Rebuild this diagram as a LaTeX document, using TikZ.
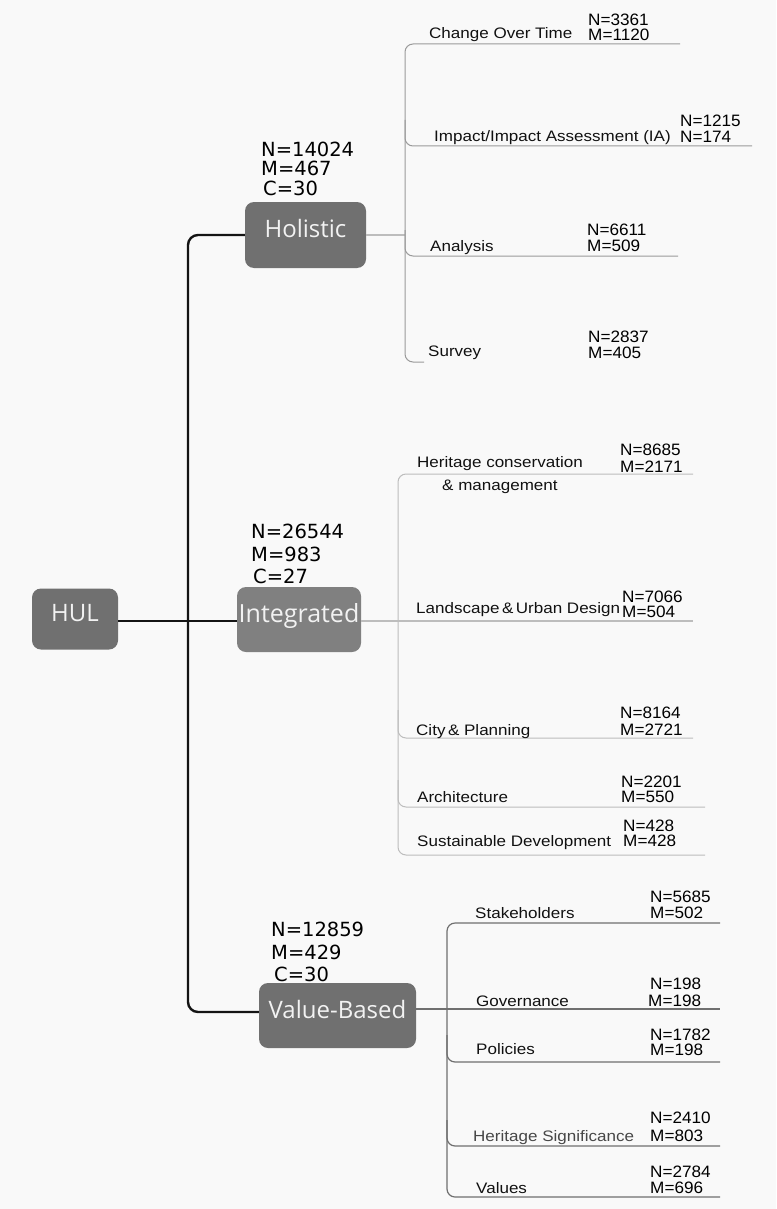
\documentclass[tikz,border=0pt]{standalone}
\usepackage{fontspec}
\setmainfont{Liberation Sans}
\newfontfamily\boxfont{Open Sans}
\newfontfamily\bigfont{DejaVu Sans}
\newfontfamily\brfont[FakeStretch=1.12]{Liberation Sans}
\newfontfamily\numfont[FakeStretch=1.04]{Liberation Sans}

\definecolor{paper}{HTML}{F9F9F9}
\definecolor{hubgray}{HTML}{707070}
\definecolor{intgray}{HTML}{808080}
\definecolor{hubtext}{HTML}{F2F2F2}
\definecolor{lblcol}{HTML}{111111}
\definecolor{brA}{HTML}{9A9A9A}
\definecolor{brB}{HTML}{BDBDBD}
\definecolor{brC}{HTML}{707070}

\tikzset{
  hub/.style={rounded corners=9pt, fill=hubgray, text=hubtext, inner sep=0pt,
    font=\boxfont\fontsize{24}{24}\selectfont, text height=0.72em, text depth=0.2em},
  bignum/.style={font=\bigfont\fontsize{19.5}{20}\selectfont, anchor=base west, inner sep=0pt, text=black},
  lbl/.style={font=\brfont\fontsize{15.2}{15}\selectfont, anchor=base west, inner sep=0pt, text=lblcol},
  num/.style={font=\numfont\fontsize{16.5}{16}\selectfont, anchor=base west, inner sep=0pt, text=black},
  trunk/.style={draw=black!92, line width=2.4pt},
  twigA/.style={draw=brA, line width=1pt, rounded corners=8pt},
  twigB/.style={draw=brB, line width=1pt, rounded corners=8pt},
  twigC/.style={draw=brC, line width=1.2pt, rounded corners=8pt},
}

\begin{document}
\begin{tikzpicture}[x=1pt,y=-1pt]
\fill[paper] (0,0) rectangle (776,1209);
\useasboundingbox (0,0) rectangle (776,1209);

% central nodes
\node[hub, minimum width=86pt, minimum height=61pt] (hul) at (75,619) {HUL};
\node[hub, minimum width=121pt, minimum height=66pt] (holistic) at (305.5,235) {Holistic};
\node[hub, fill=intgray, minimum width=124pt, minimum height=65pt,
      font=\boxfont\fontsize{25}{25}\selectfont] (integ) at (299,619.5) {Integrated};
\node[hub, minimum width=157pt, minimum height=65pt] (value) at (337.5,1015.5) {Value-Based};

% trunk
\coordinate (tk) at (188,621);
\draw[trunk] (hul.east |- tk) -- (integ.west |- tk);
\draw[trunk, rounded corners=10pt] (holistic.west) -| (tk) |- ([yshift=3.5pt]value.west);

% counts above the central nodes
\node[bignum] (ho-n) at (261,157) {N=14024};
\node[bignum] (ho-m) at (261,176) {M=467};
\node[bignum] (ho-c) at (263,196) {C=30};
\node[bignum] (in-n) at (251,538) {N=26544};
\node[bignum] (in-m) at (251,561) {M=983};
\node[bignum] (in-c) at (253,583) {C=27};
\node[bignum] (vb-n) at (271,936) {N=12859};
\node[bignum] (vb-m) at (271,959) {M=429};
\node[bignum] (vb-c) at (274,981) {C=30};

% ---------- Holistic branch ----------
\coordinate (hb) at (405,235);
\draw[draw=brB, line width=1.6pt] (holistic.east) -- (hb);
\coordinate (cot-e) at (680,44);
\coordinate (ia-e) at (752,146);
\coordinate (an-e) at (678,256);
\coordinate (sv-e) at (424,362);
\draw[twigA] (cot-e) -| (hb) |- (sv-e);
\draw[twigA] (405,120) |- (ia-e);
\draw[twigA] (405,230) |- (an-e);

\node[lbl] (cot) at (429,39) {Change Over Time};
\node[num] (cot-n) at (588,26) {N=3361};
\node[num] (cot-m) at (588,41) {M=1120};
\node[lbl] (ia) at (434,142) {Impact/Impact Assessment (IA)};
\node[num] (ia-n) at (680,127) {N=1215};
\node[num] (ia-m) at (680,143) {N=174};
\node[lbl] (an) at (430,251) {Analysis};
\node[num] (an-n) at (587,235) {N=6611};
\node[num] (an-m) at (587,251) {M=509};
\node[lbl] (sv) at (428,356) {Survey};
\node[num] (sv-n) at (588,342) {N=2837};
\node[num] (sv-m) at (588,358) {M=405};

% ---------- Integrated branch ----------
\coordinate (ib) at (398,621);
\coordinate (hc-e) at (693,474);
\coordinate (lu-e) at (693,621);
\coordinate (cp-e) at (693,738);
\coordinate (ar-e) at (705,807);
\coordinate (sd-e) at (705,855);
\draw[draw=brB, line width=1.3pt] (integ.east |- lu-e) -- (lu-e);
\draw[twigB] (hc-e) -| (ib) |- (sd-e);
\draw[twigB] (398,710) |- (cp-e);
\draw[twigB] (398,780) |- (ar-e);

\node[lbl] (hc) at (417,467) {Heritage conservation};
\node[lbl] (hc2) at (442,490) {\& management};
\node[num] (hc-n) at (620,455) {N=8685};
\node[num] (hc-m) at (620,472) {M=2171};
\node[lbl] (lu) at (416,613) {Landscape\,\&\,Urban Design};
\node[num] (lu-n) at (622,602) {N=7066};
\node[num] (lu-m) at (622,617) {M=504};
\node[lbl] (cp) at (416,735) {City\,\& Planning};
\node[num] (cp-n) at (620,718) {N=8164};
\node[num] (cp-m) at (620,735) {M=2721};
\node[lbl] (ar) at (417,802) {Architecture};
\node[num] (ar-n) at (621,787) {N=2201};
\node[num] (ar-m) at (621,802) {M=550};
\node[lbl] (sd) at (417,846) {Sustainable Development};
\node[num] (sd-n) at (623,831) {N=428};
\node[num] (sd-m) at (623,846) {M=428};

% ---------- Value-Based branch ----------
\coordinate (vb) at (447,1009);
\coordinate (st-e) at (720,923);
\coordinate (gv-e) at (720,1009);
\coordinate (po-e) at (720,1062);
\coordinate (hs-e) at (720,1146);
\coordinate (va-e) at (720,1197);
\draw[draw=brC, line width=1.2pt] (value.east |- vb) -- (gv-e);
\draw[twigC] (st-e) -| (vb) |- (va-e);
\draw[twigC] (447,1035) |- (po-e);
\draw[twigC] (447,1120) |- (hs-e);

\node[lbl] (st) at (475,918) {Stakeholders};
\node[num] (st-n) at (650,902) {N=5685};
\node[num] (st-m) at (650,918) {M=502};
\node[lbl] (gv) at (476,1006) {Governance};
\node[num] (gv-n) at (650,989) {N=198};
\node[num] (gv-m) at (648,1006) {M=198};
\node[lbl] (po) at (476,1054) {Policies};
\node[num] (po-n) at (650,1040) {N=1782};
\node[num] (po-m) at (650,1055) {M=198};
\node[lbl, text=black!72] (hs) at (473,1141) {Heritage Significance};
\node[num] (hs-n) at (650,1123) {N=2410};
\node[num] (hs-m) at (650,1141) {M=803};
\node[lbl] (va) at (476,1193) {Values};
\node[num] (va-n) at (650,1177) {N=2784};
\node[num] (va-m) at (650,1193) {M=696};
\end{tikzpicture}
\end{document}
